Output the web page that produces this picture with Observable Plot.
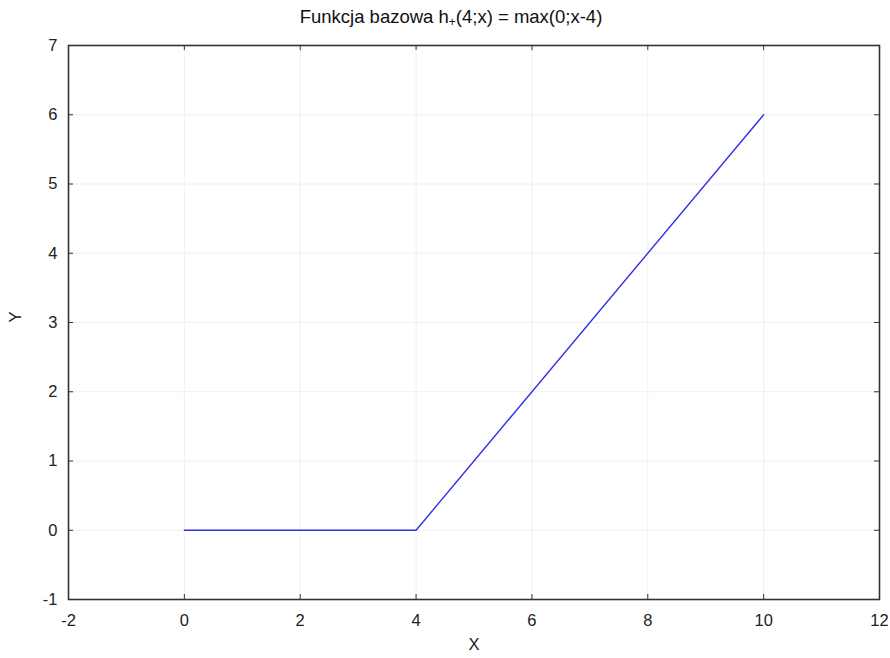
<!DOCTYPE html>
<html><head><meta charset="utf-8">
<script src="https://cdn.jsdelivr.net/npm/d3@7"></script>
<script src="https://cdn.jsdelivr.net/npm/@observablehq/plot@0.6"></script>
<style>
body{margin:0;background:#fff;font-family:"Liberation Sans",Arial,sans-serif;}
#title{height:30px;text-align:center;font-size:18.5px;line-height:34px;color:#111;padding-left:12px;}
#title sub{font-size:12px;vertical-align:-3px;line-height:0;}
</style></head>
<body>
<div id="title">Funkcja bazowa h<sub>+</sub>(4;x) = max(0;x-4)</div>
<div id="chart"></div>
<script>
const xs = [0, 4, 10];
const ys = [0, 0, 6];
const xTicks = [-2, 0, 2, 4, 6, 8, 10, 12];
const yTicks = [-1, 0, 1, 2, 3, 4, 5, 6, 7];

const data = xs.map((x, i) => ({x, y: ys[i]}));
const W = 890, H = 628, mL = 68, mR = 11, mT = 15, mB = 59;
const innerH = H - mT - mB, innerW = W - mL - mR;
const tick = 5;
const fmt = d => String(d);

const plot = Plot.plot({
  width: W, height: H,
  marginLeft: mL, marginRight: mR, marginTop: mT, marginBottom: mB,
  style: {fontFamily: '"Liberation Sans", Arial, sans-serif', fontSize: "16.5px", color: "#222", background: "#fff"},
  x: {domain: [-2, 12], ticks: xTicks, label: null},
  y: {domain: [-1, 7], ticks: yTicks, label: null},
  marks: [
    Plot.gridX(xTicks, {stroke: "#f0f0f0", strokeOpacity: 1}),
    Plot.gridY(yTicks, {stroke: "#f0f0f0", strokeOpacity: 1}),
    Plot.axisX({ticks: xTicks, tickFormat: fmt, tickSize: 0, tickPadding: 15, label: null, fontSize: 16.5}),
    Plot.axisY({ticks: yTicks, tickFormat: fmt, tickSize: 0, tickPadding: 11, label: null, fontSize: 16.5}),
    Plot.tickX(xTicks, {x: d => d, insetTop: innerH - tick, stroke: "#333"}),
    Plot.tickX(xTicks, {x: d => d, insetBottom: innerH - tick, stroke: "#333"}),
    Plot.tickY(yTicks, {y: d => d, insetRight: innerW - tick, stroke: "#333"}),
    Plot.tickY(yTicks, {y: d => d, insetLeft: innerW - tick, stroke: "#333"}),
    Plot.line(data, {x: "x", y: "y", stroke: "#3030e8", strokeWidth: 1.4}),
    Plot.frame({stroke: "#333", strokeWidth: 1.6}),
    Plot.text(["X"], {frameAnchor: "bottom", dy: 50, fontSize: 16.5, fill: "#222"}),
    Plot.text(["Y"], {frameAnchor: "left", dx: -53, rotate: -90, fontSize: 16.5, fill: "#222"})
  ]
});
document.getElementById("chart").appendChild(plot);
</script>
</body></html>
